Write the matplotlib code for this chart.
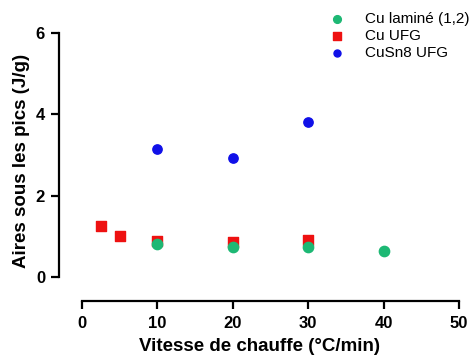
import matplotlib.pyplot as plt

plt.rcParams['font.family'] = ['Liberation Sans', 'DejaVu Sans']

# vitesse de chauffe (°C/min) et aires sous les pics (J/g)
x_lamine = [10, 20, 30, 40]
y_lamine = [0.81, 0.74, 0.74, 0.64]

x_ufg = [2.5, 5, 10, 20, 30]
y_ufg = [1.25, 1.0, 0.88, 0.86, 0.91]

x_cusn8 = [10, 20, 30]
y_cusn8 = [3.15, 2.92, 3.81]

xticks = [0, 10, 20, 30, 40, 50]
yticks = [0, 2, 4, 6]

fig = plt.figure(figsize=(4.73, 3.6), dpi=100)
ax = fig.add_axes([0.1247, 0.164, 0.849, 0.7506])

ax.scatter(x_lamine, y_lamine, s=55, color='#1DB874', marker='o', label='Cu laminé (1,2)', zorder=3)
ax.scatter(x_ufg, y_ufg, s=55, color='#EE1111', marker='s', label='Cu UFG', zorder=2)
ax.scatter(x_cusn8, y_cusn8, s=45, color='#1010E8', marker='o', label='CuSn8 UFG', zorder=3)

ax.set_xlim(-3.05, 50.2)
ax.set_ylim(-0.59, 6.05)
ax.set_xticks(xticks)
ax.set_yticks(yticks)

for side in ['top', 'right']:
    ax.spines[side].set_visible(False)
ax.spines['left'].set_bounds(0, 6)
ax.spines['bottom'].set_bounds(0, 50)
ax.spines['left'].set_linewidth(1.6)
ax.spines['bottom'].set_linewidth(1.6)
ax.tick_params(width=1.6, length=6, labelsize=12)
ax.tick_params(axis='x', pad=5)
ax.tick_params(axis='y', pad=4)
for lab in ax.get_xticklabels() + ax.get_yticklabels():
    lab.set_fontweight('bold')

ax.set_xlabel('Vitesse de chauffe (°C/min)', fontsize=13.5, fontweight='bold', labelpad=5)
ax.set_ylabel('Aires sous les pics (J/g)', fontsize=13.5, fontweight='bold')
ax.yaxis.set_label_coords(-0.073, 0.52)

fig.legend(loc='upper left', bbox_to_anchor=(0.668, 0.985), frameon=False,
           fontsize=11, markerscale=0.75, handlelength=2.0, handletextpad=0.8,
           labelspacing=0.2, borderaxespad=0)

fig.savefig('out.png', dpi=100)
